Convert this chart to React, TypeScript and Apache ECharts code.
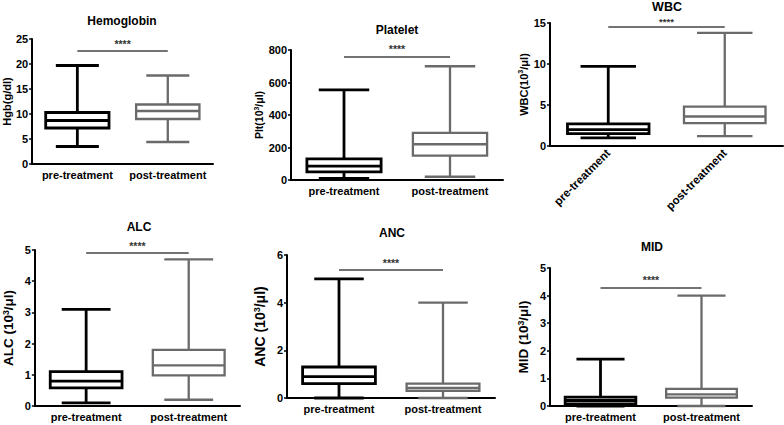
import React, { useEffect, useRef } from "react";
import * as echarts from "echarts";

const categories = ["pre-treatment", "post-treatment"];

// [min, Q1, median, Q3, max]
const hgbPre = [3.5, 7.2, 8.7, 10.3, 19.7];
const hgbPost = [4.4, 9.0, 10.6, 11.9, 17.7];
const pltPre = [10, 50, 85, 130, 555];
const pltPost = [20, 150, 220, 290, 700];
const wbcPre = [1.0, 1.5, 2.0, 2.7, 9.7];
const wbcPost = [1.2, 2.8, 3.6, 4.8, 13.8];
const alcPre = [0.1, 0.58, 0.8, 1.1, 3.1];
const alcPost = [0.2, 0.98, 1.3, 1.8, 4.7];
const ancPre = [0.0, 0.6, 0.9, 1.3, 5.0];
const ancPost = [0.0, 0.3, 0.42, 0.6, 4.0];
const midPre = [0.0, 0.08, 0.2, 0.32, 1.7];
const midPost = [0.0, 0.3, 0.42, 0.62, 4.0];

// significance bar heights
const sigLevels = [22.6, 757, 14.5, 4.9, 5.37, 4.28];
const sigLabel = "****";

const titles = ["Hemoglobin", "Platelet", "WBC", "ALC", "ANC", "MID"];
const yNames = [
  "Hgb(g/dl)",
  "Plt(10{sup|3}/μl)",
  "WBC(10{sup|3}/μl)",
  "ALC (10{sup|3}/μl)",
  "ANC (10{sup|3}/μl)",
  "MID (10{sup|3}/μl)",
];
const yMax = [25, 800, 15, 5, 6, 5];
const yInterval = [5, 200, 5, 1, 2, 1];

const boxData = [
  [hgbPre, hgbPost],
  [pltPre, pltPost],
  [wbcPre, wbcPost],
  [alcPre, alcPost],
  [ancPre, ancPost],
  [midPre, midPost],
];

// layout
const grids = [
  { left: 29, top: 39, width: 184, height: 125 },
  { left: 291, top: 50, width: 212, height: 130 },
  { left: 550, top: 23, width: 233, height: 123 },
  { left: 31, top: 250, width: 209, height: 156 },
  { left: 287, top: 255, width: 208, height: 143 },
  { left: 550, top: 268, width: 202, height: 138 },
];
const titlePos = [
  [122, 21],
  [397, 30],
  [667, 7],
  [139, 227],
  [392, 233],
  [652, 247],
];
const nameSizes = [11, 10.5, 11, 13.5, 14, 13.5];
const nameGaps = [19, 24, 20, 19, 19, 19];

const FONT = "'Liberation Sans', Arial, sans-serif";
const GRAY = "#6a6a6a";

function renderBox(params: any, api: any) {
  const idx = api.value(0);
  const mn = api.value(1);
  const q1 = api.value(2);
  const md = api.value(3);
  const q3 = api.value(4);
  const mx = api.value(5);
  const band = api.size([1, 0])[0];
  const bw = band * 0.7;
  const cw = bw * 0.68;
  const pMin = api.coord([idx, mn]);
  const pQ1 = api.coord([idx, q1]);
  const pMd = api.coord([idx, md]);
  const pQ3 = api.coord([idx, q3]);
  const pMax = api.coord([idx, mx]);
  const x = pMin[0];
  const color = idx === 0 ? "#000" : GRAY;
  const lw = idx === 0 ? 2.8 : 2.3;
  const ls = { stroke: color, lineWidth: lw, fill: "none" };
  return {
    type: "group",
    children: [
      { type: "line", shape: { x1: x, y1: pMax[1], x2: x, y2: pQ3[1] }, style: ls },
      { type: "line", shape: { x1: x, y1: pQ1[1], x2: x, y2: pMin[1] }, style: ls },
      { type: "line", shape: { x1: x - cw / 2, y1: pMax[1], x2: x + cw / 2, y2: pMax[1] }, style: ls },
      { type: "line", shape: { x1: x - cw / 2, y1: pMin[1], x2: x + cw / 2, y2: pMin[1] }, style: ls },
      {
        type: "rect",
        shape: { x: x - bw / 2, y: pQ3[1], width: bw, height: pQ1[1] - pQ3[1] },
        style: { fill: "#fff", stroke: color, lineWidth: lw },
      },
      { type: "line", shape: { x1: x - bw / 2, y1: pMd[1], x2: x + bw / 2, y2: pMd[1] }, style: ls },
    ],
  };
}

export default function App() {
  const ref = useRef<HTMLDivElement>(null);
  useEffect(() => {
    if (!ref.current) return;
    const chart = echarts.init(ref.current, null, { renderer: "svg" });
    const grid: any[] = [];
    const xAxis: any[] = [];
    const yAxis: any[] = [];
    const series: any[] = [];
    const graphic: any[] = [];
    for (let i = 0; i < 6; i++) {
      grid.push({ ...grids[i] });
      xAxis.push({
        type: "category",
        gridIndex: i,
        data: categories,
        boundaryGap: true,
        axisLine: { lineStyle: { color: "#000", width: 2 } },
        axisTick: { alignWithLabel: true, length: 3, lineStyle: { color: "#000", width: 1.5 } },
        axisLabel: {
          color: "#000",
          fontFamily: FONT,
          fontWeight: "bold",
          fontSize: i === 2 ? 11.5 : 11,
          rotate: i === 2 ? 45 : 0,
          margin: 5,
          interval: 0,
        },
      });
      yAxis.push({
        type: "value",
        gridIndex: i,
        min: 0,
        max: yMax[i],
        interval: yInterval[i],
        splitLine: { show: false },
        axisLine: { show: true, lineStyle: { color: "#000", width: 2 } },
        axisTick: { show: true, length: 3, lineStyle: { color: "#000", width: 1.5 } },
        axisLabel: {
          color: "#000",
          fontFamily: FONT,
          fontWeight: "bold",
          fontSize: 11,
          margin: 4,
        },
        name: yNames[i],
        nameLocation: "middle",
        nameRotate: 90,
        nameGap: nameGaps[i],
        nameTextStyle: {
          color: "#000",
          fontFamily: FONT,
          fontWeight: "bold",
          fontSize: nameSizes[i],
          rich: {
            sup: {
              color: "#000",
              fontFamily: FONT,
              fontWeight: "bold",
              fontSize: nameSizes[i] * 0.65,
              verticalAlign: "top",
              lineHeight: nameSizes[i] * 1.1,
            },
          },
        },
      });
      const d = boxData[i];
      series.push({
        type: "custom",
        xAxisIndex: i,
        yAxisIndex: i,
        renderItem: renderBox,
        encode: { x: 0, y: [1, 2, 3, 4, 5] },
        data: [
          [0, ...d[0]],
          [1, ...d[1]],
        ],
        z: 3,
      });
      series.push({
        type: "line",
        xAxisIndex: i,
        yAxisIndex: i,
        data: [],
        symbol: "none",
        silent: true,
        markLine: {
          silent: true,
          symbol: "none",
          lineStyle: { color: "#444", width: 1.5, type: "solid" },
          label: {
            show: true,
            position: "middle",
            formatter: sigLabel,
            color: "#333",
            fontFamily: FONT,
            fontWeight: "bold",
            fontSize: i === 2 ? 9.5 : 10.5,
            distance: i === 2 ? 1 : 2,
          },
          data: [
            [
              { coord: [categories[0], sigLevels[i]] },
              { coord: [categories[1], sigLevels[i]] },
            ],
          ],
        },
      });
      graphic.push({
        type: "text",
        x: titlePos[i][0],
        y: titlePos[i][1],
        style: {
          text: titles[i],
          fill: "#000",
          font: `bold ${i === 2 ? 12.5 : 12}px ${FONT}`,
          textAlign: "center",
          textVerticalAlign: "middle",
        },
      });
    }
    chart.setOption({
      animation: false,
      backgroundColor: "#fff",
      grid,
      xAxis,
      yAxis,
      series,
      graphic,
    });
    return () => chart.dispose();
  }, []);
  return (
    <div
      ref={ref}
      style={{ position: "fixed", left: 0, top: 0, width: 784, height: 425, background: "#fff" }}
    />
  );
}
